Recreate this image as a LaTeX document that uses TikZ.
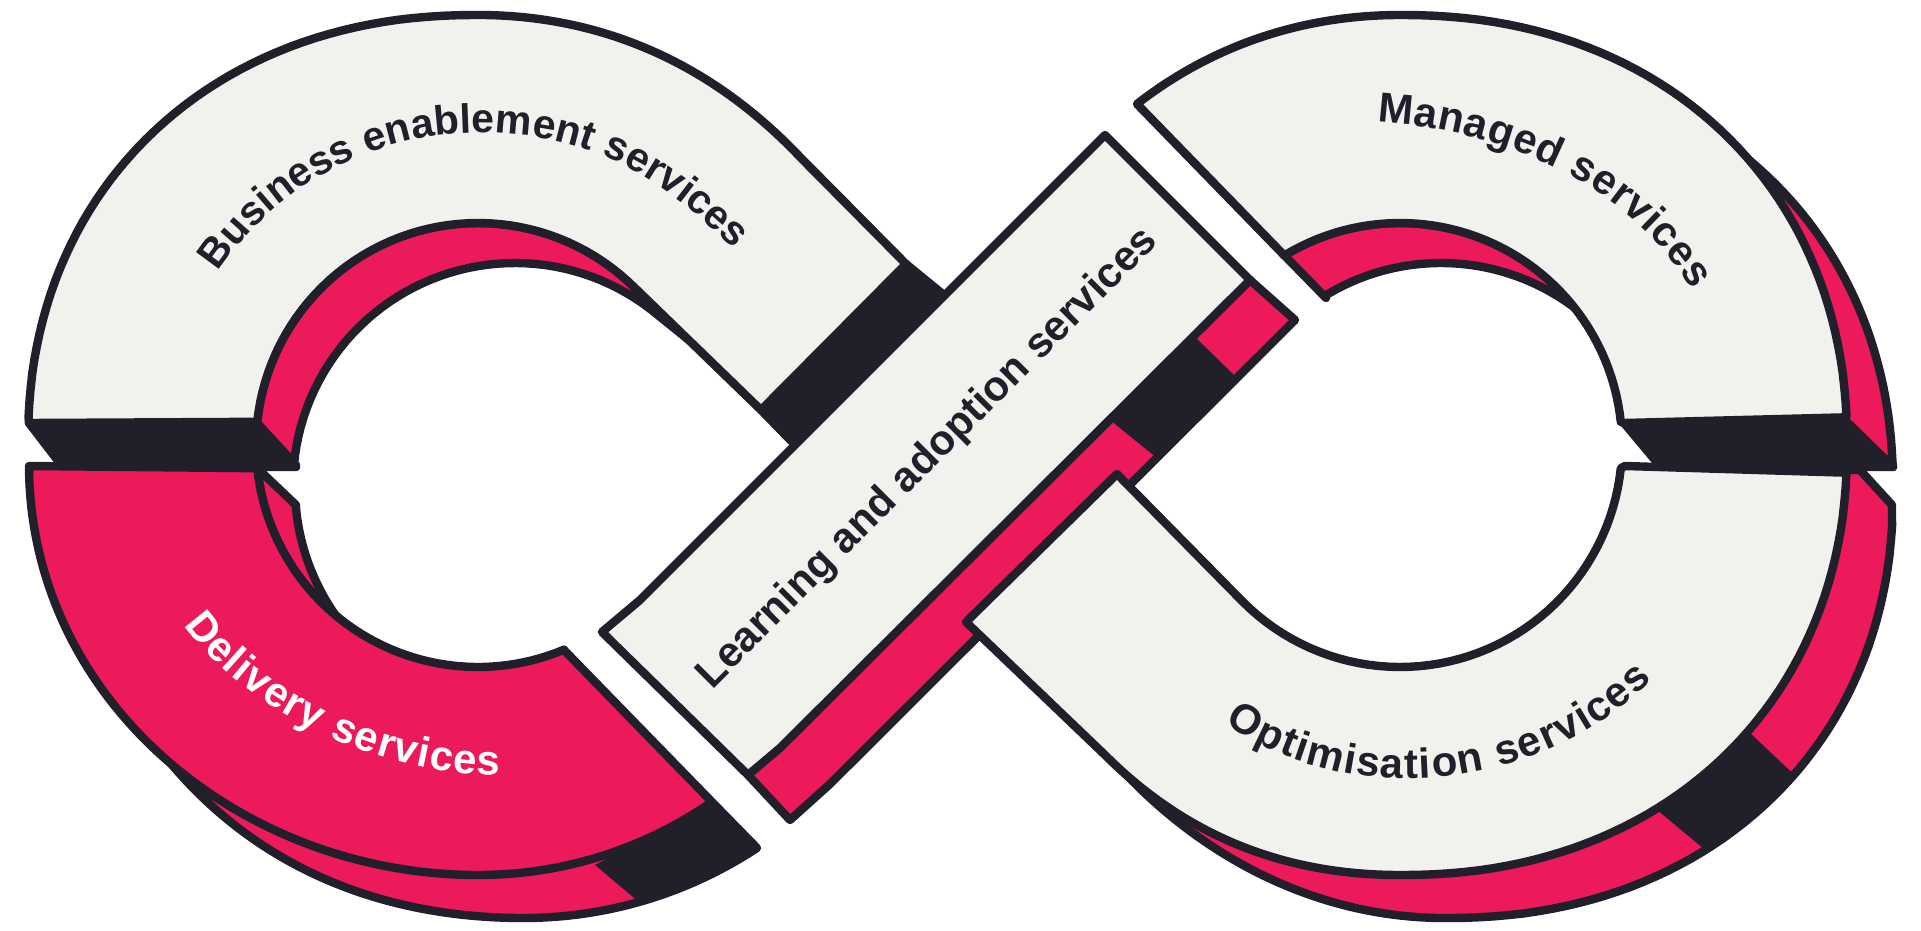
\documentclass[tikz,border=0pt]{standalone}
\usepackage{fontspec}
\setmainfont{Liberation Sans}
\usetikzlibrary{decorations.text}
\definecolor{ink}{HTML}{21202A}
\definecolor{rose}{HTML}{EC195B}
\definecolor{paper}{HTML}{F1F2EE}
\pgfmathdeclarefunction{spw}{1}{\pgfmathparse{(#1<0?-1:1)*pow(abs(#1)+0.0001,0.93)}}
\newcommand\sx[2]{#1+#2*spw(cos(\t))}
\newcommand\sy[2]{#1+#2*spw(sin(\t))}
\newcommand\cx[2]{#1+#2*cos(\t)}
\newcommand\cy[2]{#1+#2*sin(\t)}
\newcommand\lab{\fontsize{21pt}{24pt}\selectfont\bfseries}
\newcommand\labs{\fontsize{20.5pt}{24pt}\selectfont\bfseries}
\tikzset{
  dm/.style 2 args={domain=#1:#2,samples=50,variable=\t},
  ol/.style={draw=ink,line width=4.2pt,line join=round},
  lightface/.style={ol,fill=paper},
  roseface/.style={ol,fill=rose},
  inkface/.style={ol,fill=ink}
}
\begin{document}
\begin{tikzpicture}[x=0.5pt,y=-0.5pt]
\useasboundingbox (0,0) rectangle (1921,931);
% left ring, upper inner
\path[roseface] (257,423) -- (296,465) -- plot[dm={-174.8}{-52}] ({\cx{515}{222}},{\cy{485}{222}}) -- (690,341) -- (635,288) -- plot[dm={-45}{-174.3}] ({\cx{478}{222}},{\cy{445}{222}}) -- cycle;
% left ring, lower inner
\path[roseface] (256,467) -- (296,505) -- plot[dm={175.4}{143.9}] ({\cx{518}{223}},{\cy{487}{223}}) -- plot[dm={128.9}{174.3}] ({\cx{478}{222}},{\cy{445}{222}}) -- cycle;
% left ring, lower outer
\def\delshadow{(160,750) .. controls (250,866) and (380,918) .. (523,918) .. controls (610,918) and (690,892) .. (757,848) -- (712,802) -- (478,800) -- cycle}
\path[fill=rose] \delshadow;
\begin{scope}
\clip \delshadow;
\fill[ink] (595,865) -- (712,802) -- (790,840) -- (671,929) -- cycle;
\end{scope}
\path[ol] \delshadow;
% right ring, upper inner
\path[roseface] (1284,255) -- (1326,298) -- plot[dm={-121.6}{-53.2}] ({\cx{1441}{222}},{\cy{485}{222}}) -- plot[dm={-38.4}{-121.4}] ({\cx{1400}{222}},{\cy{445}{222}}) -- cycle;
% right ring, upper outer
\path[roseface] plot[dm={-70}{-3}] ({\sx{1445}{448}},{\sy{490}{430}}) -- (1893,467) -- (1847,423) -- cycle;
% right ring, lower outer
\def\optshadow{(1860,470) -- (1892,505) -- plot[dm={4}{90}] ({\sx{1445}{448}},{\sy{490}{428}}) .. controls (1320,918) and (1205,860) .. (1120,768) -- (1400,800) -- (1847,470) -- cycle}
\path[fill=rose] \optshadow;
\begin{scope}
\clip \optshadow;
\fill[ink] (1656,809) -- (1722,864) -- (1824,803) -- (1748,731) -- cycle;
\end{scope}
\path[ol] \optshadow;
% centre bar
\path[roseface] (748,775) -- (790,820) -- (830,784) -- (1295,320) -- (1250,280) -- cycle;
\fill[ink] (1193,335) -- (1237,378) -- (1157,458) -- (1110,420) -- cycle;
% dark ends
\path[inkface] (29,423) -- (62,466) -- (296,467) -- (257,423) -- cycle;
\path[inkface] (1624,423) -- (1660,466) -- (1893,467) -- (1848,423) -- cycle;
\path[inkface] (761,410) -- (800,450) -- (950,300) -- (906,264) -- cycle;
% faces
\path[lightface] (29,423) -- plot[dm={-177}{-90}] ({\sx{478}{450}},{\sy{445}{430}}) .. controls (600,15) and (710,62) .. (800,157) -- (906,264) -- (761,410) -- (635,288) -- plot[dm={-45}{-174}] ({\cx{478}{222}},{\cy{445}{222}}) -- cycle;
\path[roseface] (29,466) .. controls (30,700) and (240,875) .. (478,875) .. controls (565,875) and (645,848) .. (712,802) -- (564,650) -- plot[dm={67.2}{174}] ({\cx{478}{222}},{\cy{445}{222}}) -- cycle;
\path[lightface] (1137,104) .. controls (1210,47) and (1300,15) .. (1400,15) -- plot[dm={-90}{-3}] ({\sx{1400}{447}},{\sy{445}{430}}) -- (1624,423) -- plot[dm={-6}{-121.4}] ({\cx{1400}{222}},{\cy{445}{222}}) -- cycle;
\path[lightface] (1625,466) -- plot[dm={6}{135}] ({\cx{1400}{222}},{\cy{445}{222}}) -- (1117,474) -- (966,622) -- (1105,755) .. controls (1190,840) and (1290,875) .. (1400,875) -- plot[dm={90}{3}] ({\sx{1400}{447}},{\sy{445}{430}}) -- cycle;
\path[lightface] (602,632) -- (640,600) -- (1105,135) -- (1250,280) -- (780,748) -- (748,775) -- cycle;
% labels
\path[decorate,decoration={text along path,text align={fit to path},text={|\color{ink}\labs|Business enablement services}}] (218,272) .. controls (276,185) and (375,133) .. (478,133) .. controls (585,133) and (652,170) .. (732,247);
\path[decorate,decoration={text along path,text align={fit to path},text={|\color{white}\lab|Delivery services}}] (184,625) .. controls (240,705) and (370,775) .. (500,775);
\path[decorate,decoration={text along path,text align={fit to path},text={|\color{ink}\lab|Learning and adoption services}}] (712,690) -- (1158,244);
\path[decorate,decoration={text along path,text align={fit to path},text={|\color{ink}\lab|Managed services}}] (1377,122) .. controls (1503,130) and (1628,183) .. (1692,290);
\path[decorate,decoration={text along path,text align={fit to path},text={|\color{ink}\lab|Optimisation services}}] (1225,723) .. controls (1340,805) and (1530,800) .. (1652,680);
\end{tikzpicture}
\end{document}
